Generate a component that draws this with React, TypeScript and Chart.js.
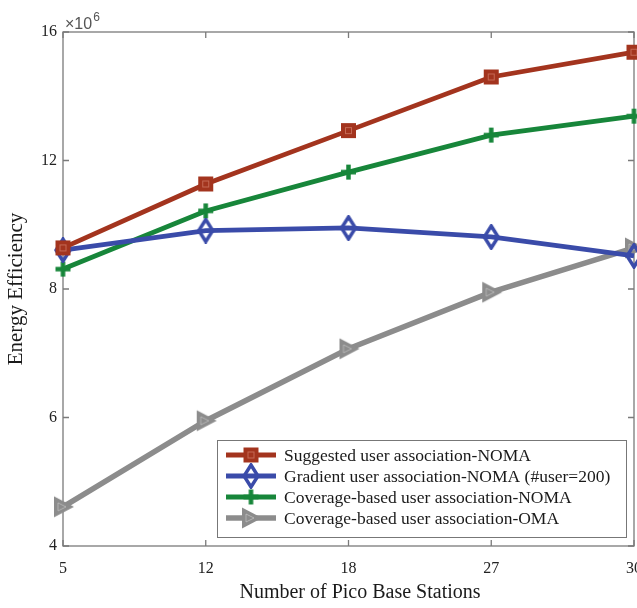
import React, { useEffect, useRef } from 'react';
import { Chart, registerables } from 'chart.js';
Chart.register(...registerables);

// ---- data ----
const categories = ['5', '12', '18', '27', '30'];
const yTickValues = [4, 6, 8, 12, 16];
const suggestedNoma = [9.28, 11.27, 12.93, 14.6, 15.37];
const gradientNoma = [9.21, 9.82, 9.9, 9.62, 9.03];
const coverageNoma = [8.62, 10.43, 11.64, 12.79, 13.38];
const coverageOma = [4.61, 5.95, 7.07, 7.95, 9.28];
const seriesNames = [
  'Suggested user association-NOMA',
  'Gradient user association-NOMA (#user=200)',
  'Coverage-based user association-NOMA',
  'Coverage-based user association-OMA',
];
const xTitle = 'Number of Pico Base Stations';
const yTitle = 'Energy Efficiency';

const RED = '#A3341E';
const BLUE = '#3A4BA9';
const GREEN = '#17863A';
const GRAY = '#8C8C8C';
const SERIF = '"Liberation Serif", "Times New Roman", serif';

// the reference's y axis has equally spaced ticks 4, 6, 8, 12, 16
function toAxis(v: number): number {
  for (let i = 0; i < yTickValues.length - 1; i++) {
    const a = yTickValues[i], b = yTickValues[i + 1];
    if (v <= b || i === yTickValues.length - 2) return i + (v - a) / (b - a);
  }
  return 0;
}

function mk(w: number, h: number, draw: (c: CanvasRenderingContext2D) => void) {
  const cv = document.createElement('canvas');
  cv.width = w; cv.height = h;
  const c = cv.getContext('2d')!;
  draw(c);
  return cv;
}

function makeMarkers() {
  const square = mk(17, 17, (c) => {
    c.fillStyle = RED; c.fillRect(1, 1, 15, 15);
    c.strokeStyle = 'rgba(225,150,130,0.55)'; c.lineWidth = 1;
    c.strokeRect(5.5, 5.5, 6, 6);
  });
  const diamond = mk(18, 26, (c) => {
    c.strokeStyle = BLUE; c.lineWidth = 3.5;
    c.beginPath(); c.moveTo(9, 2); c.lineTo(16, 13); c.lineTo(9, 24); c.lineTo(2, 13); c.closePath(); c.stroke();
  });
  const plus = mk(17, 17, (c) => {
    c.strokeStyle = GREEN; c.lineWidth = 4.5;
    c.beginPath(); c.moveTo(8.5, 1); c.lineTo(8.5, 16); c.moveTo(1, 8.5); c.lineTo(16, 8.5); c.stroke();
  });
  const tri = mk(24, 24, (c) => {
    c.fillStyle = GRAY;
    c.beginPath(); c.moveTo(3, 1.5); c.lineTo(23, 12); c.lineTo(3, 22.5); c.closePath(); c.fill();
    c.strokeStyle = 'rgba(205,205,205,0.6)'; c.lineWidth = 1;
    c.beginPath(); c.moveTo(7, 8); c.lineTo(15, 12); c.lineTo(7, 16); c.closePath(); c.stroke();
  });
  return [square, diamond, plus, tri];
}

export default function App() {
  const ref = useRef<HTMLCanvasElement | null>(null);

  useEffect(() => {
    if (!ref.current) return;
    const markers = makeMarkers();
    const colors = [RED, BLUE, GREEN, GRAY];
    const widths = [4.8, 4.8, 4.8, 5.5];
    const values = [suggestedNoma, gradientNoma, coverageNoma, coverageOma];

    const framePlugin = {
      id: 'frame',
      beforeDatasetsDraw(chart: any) {
        const { ctx, chartArea: a, scales } = chart;
        ctx.save();
        ctx.strokeStyle = '#7a7a7a';
        ctx.lineWidth = 1.3;
        ctx.strokeRect(a.left, a.top, a.right - a.left, a.bottom - a.top);
        ctx.beginPath();
        const tl = 6;
        scales.x.ticks.forEach((_: any, i: number) => {
          const x = scales.x.getPixelForTick(i);
          ctx.moveTo(x, a.bottom); ctx.lineTo(x, a.bottom - tl);
          ctx.moveTo(x, a.top); ctx.lineTo(x, a.top + tl);
        });
        scales.y.ticks.forEach((_: any, i: number) => {
          const y = scales.y.getPixelForTick(i);
          ctx.moveTo(a.left, y); ctx.lineTo(a.left + tl, y);
          ctx.moveTo(a.right, y); ctx.lineTo(a.right - tl, y);
        });
        ctx.stroke();
        // exponent label
        ctx.fillStyle = '#555';
        ctx.textBaseline = 'alphabetic';
        ctx.textAlign = 'left';
        ctx.font = '16px "Liberation Sans", Arial, sans-serif';
        ctx.fillText('\u00d710', a.left + 2, a.top - 3);
        const w = ctx.measureText('\u00d710').width;
        ctx.font = '12px "Liberation Sans", Arial, sans-serif';
        ctx.fillText('6', a.left + 3 + w, a.top - 11);
        // x axis title
        ctx.fillStyle = '#1a1a1a';
        ctx.font = '20px ' + SERIF;
        ctx.textAlign = 'center';
        ctx.textBaseline = 'middle';
        ctx.fillText(xTitle, 360, 593);
        ctx.restore();
      },
      afterDraw(chart: any) {
        const { ctx } = chart;
        ctx.save();
        const L = 217, T = 440, R = 626, B = 537;
        ctx.fillStyle = '#fff';
        ctx.fillRect(L, T, R - L, B - T);
        ctx.strokeStyle = '#777';
        ctx.lineWidth = 1;
        ctx.strokeRect(L + 0.5, T + 0.5, R - L, B - T);
        const rows = [455, 476, 497, 518];
        ctx.font = '17.5px ' + SERIF;
        ctx.textBaseline = 'middle';
        ctx.textAlign = 'left';
        rows.forEach((y, i) => {
          ctx.strokeStyle = colors[i];
          ctx.lineWidth = widths[i];
          ctx.beginPath(); ctx.moveTo(226, y); ctx.lineTo(276, y); ctx.stroke();
          const m = markers[i];
          ctx.drawImage(m, 251 - m.width / 2, y - m.height / 2);
          ctx.fillStyle = '#1a1a1a';
          ctx.fillText(seriesNames[i], 284, y + 1);
        });
        ctx.restore();
      },
    };

    const chart = new Chart(ref.current, {
      type: 'line',
      data: {
        labels: categories,
        datasets: values.map((vals, i) => ({
          label: seriesNames[i],
          data: vals.map(toAxis),
          borderColor: colors[i],
          backgroundColor: colors[i],
          borderWidth: widths[i],
          pointStyle: markers[i] as any,
          pointRadius: 9,
          tension: 0,
          clip: false as any,
        })),
      },
      options: {
        animation: false,
        responsive: false,
        layout: { padding: { left: 0, top: 32, right: 16, bottom: 0 } },
        plugins: { legend: { display: false }, tooltip: { enabled: false } },
        scales: {
          x: {
            type: 'category',
            offset: false,
            grid: { display: false, drawTicks: false },
            border: { display: false },
            ticks: { font: { family: SERIF, size: 16 }, color: '#222', padding: 13, maxRotation: 0, autoSkip: false },
            title: { display: false, text: xTitle },
            afterFit: (s: any) => { s.height = 62; },
          },
          y: {
            type: 'linear',
            min: 0,
            max: 4,
            grid: { display: false, drawTicks: false },
            border: { display: false },
            ticks: {
              stepSize: 1,
              font: { family: SERIF, size: 16 },
              color: '#222',
              padding: 6,
              callback: (v: any) => String(yTickValues[Math.round(Number(v))] ?? ''),
            },
            title: { display: true, text: yTitle, font: { family: SERIF, size: 21 }, color: '#1a1a1a', padding: { top: 4, bottom: 0 } },
            afterFit: (s: any) => { s.width = 63; },
          },
        },
      },
      plugins: [framePlugin],
    });
    return () => chart.destroy();
  }, []);

  return (
    <div style={{ position: 'fixed', left: 0, top: 0, width: 637, height: 608, overflow: 'hidden', background: '#fff' }}>
      <canvas ref={ref} width={655} height={608} style={{ display: 'block', width: 655, height: 608 }} />
    </div>
  );
}
